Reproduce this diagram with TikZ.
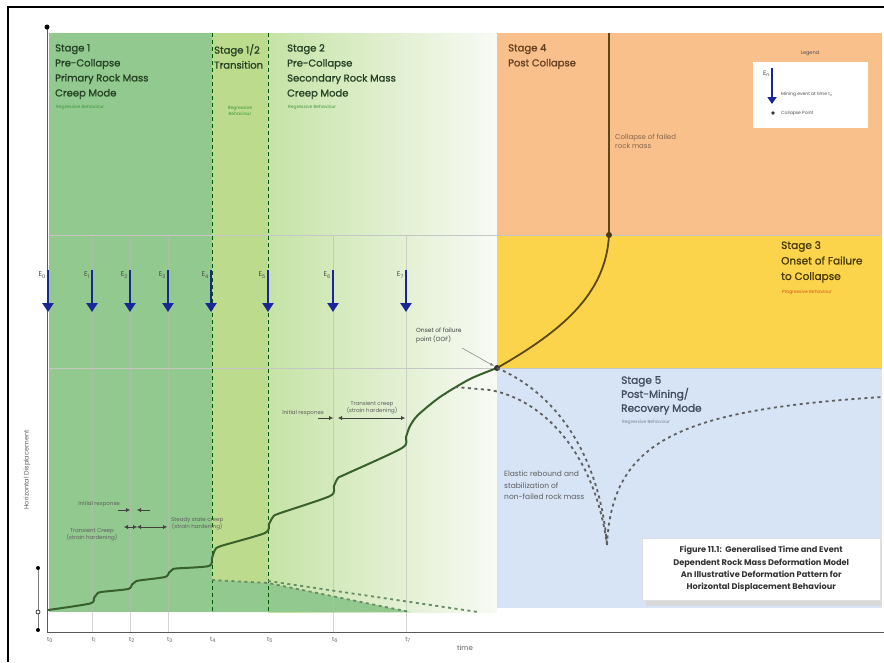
\documentclass[tikz,border=0pt]{standalone}
\usepackage{fontspec}
\setmainfont{Poppins}
\newfontfamily\stagefont{Poppins}[FakeBold=1.2]
\usetikzlibrary{arrows.meta}
\definecolor{gOne}{RGB}{146,201,143}
\definecolor{gHalf}{RGB}{188,219,140}
\definecolor{gTwo}{RGB}{198,227,166}
\definecolor{gEnd}{RGB}{248,250,244}
\definecolor{orangeS}{RGB}{249,192,140}
\definecolor{yellowS}{RGB}{252,212,76}
\definecolor{blueS}{RGB}{214,228,245}
\definecolor{evblue}{RGB}{24,38,150}
\definecolor{curveG}{RGB}{56,96,44}
\definecolor{curveB}{RGB}{92,72,22}
\definecolor{txtG}{RGB}{38,66,38}
\definecolor{txtBr}{RGB}{100,62,30}
\definecolor{txtY}{RGB}{72,58,0}
\definecolor{txtBl}{RGB}{66,76,92}
\definecolor{regG}{RGB}{60,150,60}
\definecolor{progO}{RGB}{214,80,20}
\definecolor{dgray}{RGB}{95,95,95}
\begin{document}
\begin{tikzpicture}[x=1pt,y=-1pt,
  stagetxt/.style={anchor=north west,align=left,inner sep=0pt,font=\stagefont\fontsize{10}{15}\selectfont},
  tinytxt/.style={inner sep=0pt,font=\fontsize{4.5}{5.5}\selectfont},
  annotxt/.style={inner sep=0pt,align=center,text=dgray,font=\fontsize{5.5}{7}\selectfont},
  evarrow/.style={evblue,line width=2.6pt,-{Triangle[width=11pt,length=9pt]}},
  dcurve/.style={dgray,line width=1.8pt,dash pattern=on 3pt off 3.5pt},
  gridv/.style={gray!55,line width=0.4pt,opacity=0.6},
  gridh/.style={gray!45,line width=0.6pt},
  boundline/.style={green!35!black,line width=0.8pt,dash pattern=on 4pt off 3pt},
  mainc/.style={curveG,line width=2pt,line cap=round,line join=round},
  failc/.style={curveB,line width=1.8pt},
  dimarrow/.style={black!75,line width=0.4pt,{Latex[length=4pt,width=4pt]}-{Latex[length=4pt,width=4pt]}},
  onearrow/.style={black!75,line width=0.4pt,-{Latex[length=4pt,width=4pt]}}]
\useasboundingbox (0,0) rectangle (884,662);
\fill[white] (0,0) rectangle (884,662);
% stage regions
\fill[gOne] (49,33) rectangle (212,612);
\fill[gHalf] (212,33) rectangle (268,612);
\shade[left color=gTwo,right color=gEnd] (268,33) rectangle (497,612);
\fill[orangeS] (497,33) rectangle (882,235);
\fill[yellowS] (497,235) rectangle (882,368);
\fill[blueS] (497,368) rectangle (882,608);
\fill[gOne] (212,580) -- (268,583) -- (410,612) -- (212,612) -- cycle;
% grid
\foreach \x in {92,130,168,333,406} { \draw[gridv] (\x,235) -- (\x,632); }
\draw[gridh] (49,235) -- (882,235);
\draw[gridh] (49,368) -- (882,368);
\draw[boundline] (212,33) -- (212,612);
\draw[boundline] (268,33) -- (268,612);
% axes
\draw[gray!70!black,line width=1pt] (47,27) -- (47,632) -- (884,632);
\fill[black] (47,27) circle (2.5);
\node[rotate=90,inner sep=0pt,text=dgray,font=\fontsize{6.5}{8}\selectfont] (ylab) at (27,470) {Horizontal Displacement};
\node[inner sep=0pt,text=dgray,font=\fontsize{7}{8}\selectfont] (xlab) at (465,648) {time};
% small scale at left
\draw[gray,line width=0.5pt] (38,568) -- (38,630);
\fill[black] (38,568) circle (2);
\draw[black,fill=white,line width=0.6pt] (38,612) circle (2);
\fill[black] (38,630) circle (2);
% ticks and events
\foreach \x/\i in {48/0,92/1,130/2,168/3,211/4,268/5,333/6,406/7} {
  \node[anchor=north,inner sep=0pt,text=dgray,font=\fontsize{6}{7}\selectfont] (t\i) at ({\x+2},637) {t\textsubscript{\i}};
  \coordinate (ea\i) at (\x,270);
  \coordinate (eb\i) at (\x,312);
  \draw[evarrow] (ea\i) -- (eb\i);
  \node[anchor=east,inner sep=0pt,text=black!70,font=\fontsize{7}{8}\selectfont] (el\i) at ({\x-2},275) {E\textsubscript{\i}};
}
% main displacement curve
\coordinate (oof) at (497,368);
\coordinate (cp) at (609,235);
\coordinate (cptop) at (609,33);
\coordinate (cusp) at (607,545);
\draw[mainc] plot[smooth,tension=0.45] coordinates {(48,610) (90,603.5) (94,598) (97,594) (101,592) (128,589) (132,584.5) (135,582) (139,580.5) (165,577) (169,572.5) (172,570) (176,568.5) (209,566) (212,558) (215,550) (221,546) (265,533) (269,524) (273,517) (279,513.5) (330,496) (334,486) (338,478) (345,474.5) (402,448) (406,437) (410,426) (418,415) (440,397) (470,379) (497,368)};
\draw[failc] (oof) .. controls (560,332) and (606,295) .. (cp) -- (cptop);
\fill[black!80] (oof) circle (3);
\fill[curveB!80!black] (cp) circle (3);
% dashed recovery curves
\draw[dcurve] (oof) .. controls (560,395) and (600,460) .. (cusp);
\draw[dcurve] (455,387) -- (490,390) .. controls (545,400) and (595,455) .. (cusp);
\draw[dcurve] (cusp) .. controls (612,440) and (680,410) .. (882,397);
\draw[dcurve,green!25!black!60] (212,580) -- (268,583) -- (410,612);
\draw[dcurve,green!25!black!60] (268,581) -- (478,612);
% stage texts
\node[stagetxt,text=txtG] (s1) at (55,44) {Stage 1\\Pre-Collapse\\Primary Rock Mass\\Creep Mode};
\node[tinytxt,anchor=west,text=regG] (r1) at (56,107) {Regressive Behaviour};
\node[stagetxt,text=txtG] (s12) at (214,44) {Stage 1/2\\Transition};
\node[tinytxt,align=center,text=regG] (r12) at (240,111) {Regressive\\Behaviour};
\node[stagetxt,text=txtG] (s2) at (287,44) {Stage 2\\Pre-Collapse\\Secondary Rock Mass\\Creep Mode};
\node[tinytxt,anchor=west,text=regG] (r2) at (288,107) {Regressive Behaviour};
\node[stagetxt,text=txtBr] (s4) at (508,44) {Stage 4\\Post Collapse};
\node[anchor=north west,align=left,inner sep=0pt,text=txtBr!80,font=\fontsize{7}{9}\selectfont] (coll) at (615,134) {Collapse of failed\\rock mass};
\node[stagetxt,text=txtY,font=\stagefont\fontsize{10.5}{15.5}\selectfont] (s3) at (781,241) {Stage 3\\Onset of Failure\\to Collapse};
\node[tinytxt,anchor=west,text=progO] (p3) at (782,292) {Progressive Behaviour};
\node[stagetxt,text=txtBl,font=\stagefont\fontsize{10.5}{14}\selectfont] (s5) at (621,376) {Stage 5\\Post-Mining/\\Recovery Mode};
\node[tinytxt,anchor=west,text=txtBl!70] (r5) at (622,422) {Regressive Behaviour};
\node[anchor=north west,align=left,inner sep=0pt,text=dgray,font=\fontsize{7.5}{11.5}\selectfont] (elas) at (504,471) {Elastic rebound and\\stabilization of\\non-failed rock mass};
% onset of failure label
\node[anchor=north west,align=left,inner sep=0pt,text=black!75,font=\fontsize{6}{8.5}\selectfont] (ooft) at (416,328) {Onset of failure\\point (OOF)};
\coordinate (oofl) at (462,348);
\draw[gray,line width=0.5pt,-{Latex[length=4pt,width=3pt]}] (oofl) -- (494,366);
% stage 2 annotations
\node[annotxt,anchor=east] (ir2) at (324,413) {Initial response};
\node[annotxt] (tc2) at (372,408) {Transient creep\\(strain hardening)};
\coordinate (a2a) at (318,418); \coordinate (a2b) at (333,418);
\coordinate (a2c) at (338,418); \coordinate (a2d) at (405,418);
\draw[onearrow] (a2a) -- (a2b);
\draw[dimarrow] (a2c) -- (a2d);
% stage 1 annotations
\node[annotxt,anchor=east] (ir1) at (120,504) {Initial response};
\node[annotxt] (tc1) at (92,535) {Transient Creep\\(strain hardening)};
\node[annotxt,anchor=west] (sc1) at (171,524) {Steady state creep\\(strain hardening)};
\coordinate (b1a) at (118,510); \coordinate (b1b) at (130,510);
\coordinate (b1c) at (137,510); \coordinate (b1d) at (150,510);
\draw[onearrow] (b1a) -- (b1b);
\draw[onearrow] (b1d) -- (b1c);
\coordinate (c1a) at (124,527); \coordinate (c1b) at (137,527);
\coordinate (c1c) at (167,527);
\draw[dimarrow] (c1a) -- (c1b);
\draw[dimarrow] (c1b) -- (c1c);
% legend
\node[inner sep=0pt,text=black!70,font=\fontsize{5}{6}\selectfont] (lgt) at (810,53) {Legend};
\node[anchor=north west,fill=white,inner sep=0pt,minimum width=115pt,minimum height=66pt] (lgbox) at (753,62) {};
\coordinate (lga) at (772,68); \coordinate (lgb) at (772,104);
\draw[evarrow,line width=2pt,-{Triangle[width=9pt,length=7pt]}] (lga) -- (lgb);
\node[anchor=east,inner sep=0pt,text=black!70,font=\fontsize{6.5}{7}\selectfont] (lge) at (770,74) {E\textsubscript{n}};
\node[tinytxt,anchor=west,text=black!70] (lgm) at (781,94) {Mining event at time t\textsubscript{n}};
\fill[black!80] (773,113) circle (1.8);
\node[tinytxt,anchor=west,text=black!70] (lgc) at (781,113) {Collapse Point};
% caption
\fill[gray!30] (646,543) rectangle (882,606);
\node[anchor=north west,fill=white,draw=gray!25,inner sep=0pt,minimum width=238pt,minimum height=62pt] (capbox) at (642,538) {};
\node[align=center,inner sep=0pt,text=black!80,font=\bfseries\fontsize{8.2}{12.3}\selectfont] (cap) at (capbox.center) {Figure 11.1:\ \ Generalised Time and Event\\Dependent Rock Mass Deformation Model\\An Illustrative Deformation Pattern for\\Horizontal Displacement Behaviour};
% frame
\draw[black,line width=2.5pt] (8,662) -- (8,7) -- (884,7);
\end{tikzpicture}
\end{document}
